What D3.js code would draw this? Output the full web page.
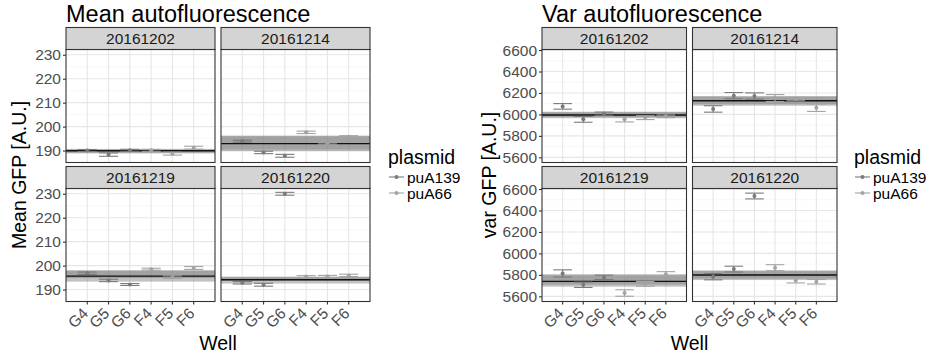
<!DOCTYPE html>
<html>
<head>
<meta charset="utf-8">
<script src="https://cdn.jsdelivr.net/npm/d3@7"></script>
<style>
  body { margin: 0; background: #fff; }
  svg { display: block; font-family: "Liberation Sans", Arial, sans-serif; }
</style>
</head>
<body>
<div id="main"></div>
<script>
// facet / category data
var dates = ["20161202", "20161214", "20161219", "20161220"];
var wells = ["G4", "G5", "G6", "F4", "F5", "F6"];
var plasmids = ["puA139", "puA66"];
// which plasmid each well carries (index into plasmids)
var wellPlasmid = [0, 0, 0, 1, 1, 1];

// mean autofluorescence, one row per date, wells in order above
var meanMid = [
    [190.0, 188.3, 190.1, 190.1, 188.7, 191.2],
    [193.9, 189.2, 187.8, 197.6, 193.0, 195.8],
    [196.8, 193.8, 192.1, 198.5, 195.2, 199.0],
    [192.8, 192.0, 230.0, 195.4, 195.4, 195.9]
];
var meanErr = [
    [0.4, 0.7, 0.4, 0.4, 0.6, 0.6],
    [0.4, 0.5, 0.6, 0.5, 0.3, 0.4],
    [0.5, 0.5, 0.4, 0.4, 0.5, 0.6],
    [0.5, 0.6, 0.6, 0.4, 0.5, 0.5]
];
var meanLine = [189.9, 192.9, 195.6, 194.1];
var meanBandA = [[189.1, 190.7], [189.7, 196.0], [193.3, 197.8], [192.5, 195.2]];
var meanBandB = [[188.8, 190.4], [190.4, 196.25], [194.8, 198.1], [193.6, 195.4]];
var meanTicks = [190, 200, 210, 220, 230];

// variance of autofluorescence
var varMid = [
    [6075, 5954, 6007, 5954, 5970, 5982],
    [6051, 6175, 6172, 6153, 6143, 6063],
    [5814, 5708, 5777, 5631, 5717, 5805],
    [5783, 5854, 6535, 5867, 5749, 5736]
];
var varErr = [
    [26, 27, 15, 24, 18, 12],
    [30, 29, 29, 32, 16, 35],
    [33, 25, 20, 30, 22, 25],
    [29, 27, 27, 28, 24, 21]
];
var varLine = [5995, 6128, 5740, 5799];
var varBandA = [[5965, 6020], [6081, 6165], [5690, 5795], [5752, 5835]];
var varBandB = [[5975, 6025], [6095, 6172], [5710, 5805], [5765, 5842]];
var varTicks = [5600, 5800, 6000, 6200, 6400, 6600];

var plasmidColor = d3.scaleOrdinal().domain(plasmids).range(["#7a7a7a", "#a3a3a3"]);

var svg = d3.select("#main").append("svg")
    .attr("width", 930)
    .attr("height", 358);

function drawPlot(cfg) {
    var g = svg.append("g");
    var colX = [[cfg.x0, cfg.x0 + cfg.pw], [cfg.x0 + cfg.pw + 6, cfg.x0 + 2 * cfg.pw + 6]];
    var rows = [];
    var top = 27.5, stripH = 22, panelH = 113, gap = 4;
    rows.push([top + stripH, top + stripH + panelH]);
    var r2 = top + stripH + panelH + gap;
    rows.push([r2 + stripH, r2 + stripH + panelH]);

    // title
    g.append("text")
        .attr("x", cfg.x0)
        .attr("y", 21.5)
        .attr("font-size", 23.5)
        .attr("fill", "#000")
        .text(cfg.title);

    dates.forEach(function (date, i) {
        var c = colX[i % 2], r = rows[Math.floor(i / 2)];
        var x = d3.scalePoint().domain(wells).range(c).padding(1);
        var y = d3.scaleLinear().domain(cfg.domain).range([r[1], r[0]]);
        var p = g.append("g");

        // panel background + grid
        p.append("rect").attr("x", c[0]).attr("y", r[0])
            .attr("width", c[1] - c[0]).attr("height", r[1] - r[0]).attr("fill", "#fff");
        var minor = [];
        for (var k = 0; k < cfg.ticks.length - 1; k++) minor.push((cfg.ticks[k] + cfg.ticks[k + 1]) / 2);
        minor.push(cfg.ticks[0] - (cfg.ticks[1] - cfg.ticks[0]) / 2);
        p.selectAll(".minor").data(minor.filter(function (v) { return v > cfg.domain[0]; }))
            .enter().append("line")
            .attr("x1", c[0]).attr("x2", c[1])
            .attr("y1", function (v) { return y(v); }).attr("y2", function (v) { return y(v); })
            .attr("stroke", "#f2f2f2").attr("stroke-width", 0.6);
        p.selectAll(".majorY").data(cfg.ticks).enter().append("line")
            .attr("x1", c[0]).attr("x2", c[1])
            .attr("y1", function (v) { return y(v); }).attr("y2", function (v) { return y(v); })
            .attr("stroke", "#e6e6e6").attr("stroke-width", 1.1);
        p.selectAll(".majorX").data(wells).enter().append("line")
            .attr("x1", function (w) { return x(w); }).attr("x2", function (w) { return x(w); })
            .attr("y1", r[0]).attr("y2", r[1])
            .attr("stroke", "#e6e6e6").attr("stroke-width", 1.1);

        // ribbons + summary line
        [cfg.bandA[i], cfg.bandB[i]].forEach(function (b) {
            p.append("rect")
                .attr("x", c[0]).attr("width", c[1] - c[0])
                .attr("y", y(b[1])).attr("height", y(b[0]) - y(b[1]))
                .attr("fill", "#7f7f7f").attr("fill-opacity", 0.48);
        });
        p.append("line")
            .attr("x1", c[0]).attr("x2", c[1])
            .attr("y1", y(cfg.line[i])).attr("y2", y(cfg.line[i]))
            .attr("stroke", "#111").attr("stroke-width", 1.4);

        // error bars + points
        var pts = wells.map(function (w, j) {
            return { well: w, mid: cfg.mid[i][j], err: cfg.err[i][j], plasmid: plasmids[wellPlasmid[j]] };
        });
        var half = x.step() * 0.45;
        var eb = p.selectAll(".eb").data(pts).enter().append("g")
            .attr("stroke", function (d) { return plasmidColor(d.plasmid); })
            .attr("stroke-width", 1.1);
        eb.append("line")
            .attr("x1", function (d) { return x(d.well) - half; })
            .attr("x2", function (d) { return x(d.well) + half; })
            .attr("y1", function (d) { return y(d.mid + d.err); })
            .attr("y2", function (d) { return y(d.mid + d.err); });
        eb.append("line")
            .attr("x1", function (d) { return x(d.well) - half; })
            .attr("x2", function (d) { return x(d.well) + half; })
            .attr("y1", function (d) { return y(d.mid - d.err); })
            .attr("y2", function (d) { return y(d.mid - d.err); });
        eb.append("line")
            .attr("x1", function (d) { return x(d.well); })
            .attr("x2", function (d) { return x(d.well); })
            .attr("y1", function (d) { return y(d.mid + d.err); })
            .attr("y2", function (d) { return y(d.mid - d.err); });
        p.selectAll(".pt").data(pts).enter().append("circle")
            .attr("cx", function (d) { return x(d.well); })
            .attr("cy", function (d) { return y(d.mid); })
            .attr("r", 2)
            .attr("fill", function (d) { return plasmidColor(d.plasmid); });

        // panel border
        p.append("rect").attr("x", c[0]).attr("y", r[0])
            .attr("width", c[1] - c[0]).attr("height", r[1] - r[0])
            .attr("fill", "none").attr("stroke", "#333").attr("stroke-width", 1.1);

        // strip
        p.append("rect").attr("x", c[0]).attr("y", r[0] - stripH)
            .attr("width", c[1] - c[0]).attr("height", stripH)
            .attr("fill", "#d4d4d4").attr("stroke", "#333").attr("stroke-width", 1.1);
        p.append("text")
            .attr("x", (c[0] + c[1]) / 2).attr("y", r[0] - stripH / 2)
            .attr("dy", "0.36em").attr("text-anchor", "middle")
            .attr("font-size", 15.5).attr("fill", "#1a1a1a")
            .text(date);

        // y axis on left column
        if (i % 2 === 0) {
            var ya = p.append("g").attr("transform", "translate(" + c[0] + ",0)")
                .call(d3.axisLeft(y).tickValues(cfg.ticks).tickSize(3).tickPadding(2).tickFormat(d3.format("d")));
            ya.select(".domain").remove();
            ya.selectAll("line").attr("stroke", "#333").attr("stroke-width", 1.1);
            ya.selectAll("text").attr("font-size", 15.5).attr("fill", "#4d4d4d")
                .attr("font-family", "Liberation Sans, Arial, sans-serif");
        }
        // x axis on bottom row
        if (i >= 2) {
            var xa = p.append("g").attr("transform", "translate(0," + r[1] + ")");
            xa.selectAll("line").data(wells).enter().append("line")
                .attr("x1", function (w) { return x(w); }).attr("x2", function (w) { return x(w); })
                .attr("y1", 0).attr("y2", 3)
                .attr("stroke", "#333").attr("stroke-width", 1.1);
            xa.selectAll("text").data(wells).enter().append("text")
                .attr("transform", function (w) { return "translate(" + (x(w) - 6) + ",5) rotate(-45)"; })
                .attr("text-anchor", "end")
                .attr("dy", "0.72em")
                .attr("font-size", 15.5).attr("fill", "#4d4d4d")
                .text(function (w) { return w; });
        }
    });

    // axis titles
    g.append("text")
        .attr("x", cfg.x0 + cfg.pw + 3).attr("y", 350)
        .attr("text-anchor", "middle").attr("font-size", 19.5)
        .text("Well");
    g.append("text")
        .attr("transform", "translate(" + cfg.ylabX + ",175) rotate(-90)")
        .attr("text-anchor", "middle").attr("font-size", 19.5)
        .text(cfg.ylab);

    // legend
    var lg = g.append("g").attr("transform", "translate(" + cfg.legX + ",0)");
    lg.append("text").attr("x", 0).attr("y", 164).attr("font-size", 19.5).text("plasmid");
    plasmids.forEach(function (pl, k) {
        var yy = 177 + k * 16;
        lg.append("line").attr("x1", 1).attr("x2", 16).attr("y1", yy).attr("y2", yy)
            .attr("stroke", plasmidColor(pl)).attr("stroke-width", 1.1);
        lg.append("circle").attr("cx", 8.5).attr("cy", yy).attr("r", 2).attr("fill", plasmidColor(pl));
        lg.append("text").attr("x", 19).attr("y", yy).attr("dy", "0.36em")
            .attr("font-size", 15.5).text(pl);
    });
}

drawPlot({
    title: "Mean autofluorescence", ylab: "Mean GFP [A.U.]",
    x0: 66, pw: 149, ylabX: 26, legX: 388,
    domain: [185.0, 232.2], ticks: meanTicks,
    mid: meanMid, err: meanErr, line: meanLine, bandA: meanBandA, bandB: meanBandB
});
drawPlot({
    title: "Var autofluorescence", ylab: "var GFP [A.U.]",
    x0: 542, pw: 144.5, ylabX: 496, legX: 854,
    domain: [5552, 6605], ticks: varTicks,
    mid: varMid, err: varErr, line: varLine, bandA: varBandA, bandB: varBandB
});
</script>
</body>
</html>
